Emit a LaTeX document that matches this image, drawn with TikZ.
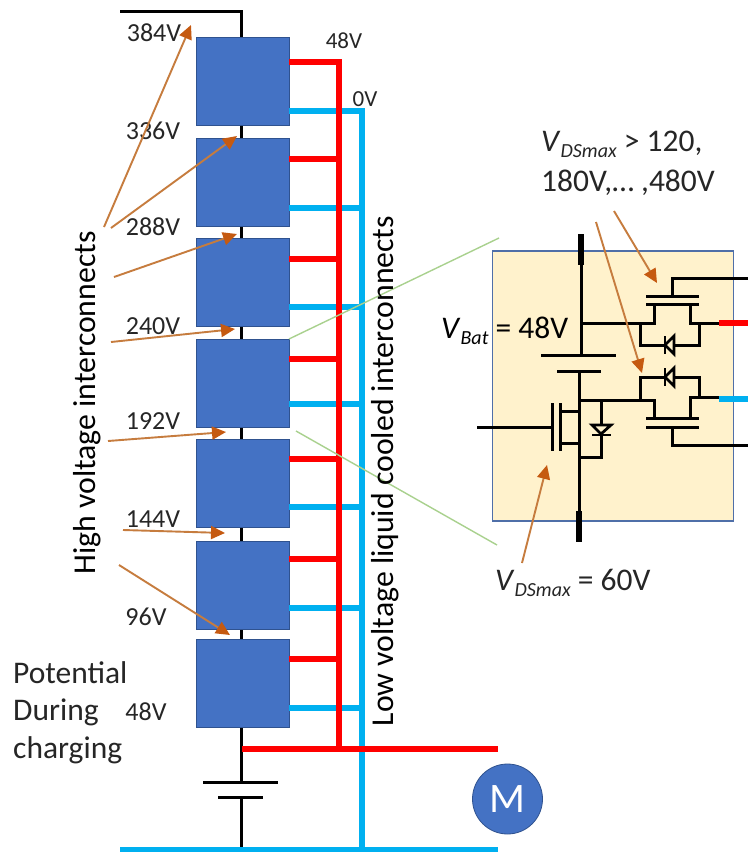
\documentclass[tikz,border=0pt]{standalone}
\usepackage{fontspec}
\setmainfont{Carlito}
\usetikzlibrary{arrows.meta}
\definecolor{cellblue}{HTML}{4472C4}
\definecolor{cellline}{HTML}{2F528F}
\definecolor{busred}{HTML}{FF0000}
\definecolor{busblue}{HTML}{00B0F0}
\definecolor{brownline}{HTML}{C67C3E}
\definecolor{browntip}{HTML}{C55A11}
\definecolor{greenline}{HTML}{A9D18E}
\definecolor{panelfill}{HTML}{FFF2CC}
\definecolor{panelline}{HTML}{4F6FA8}
\definecolor{txt}{HTML}{262626}
\tikzset{
 x=1pt,y=-1pt,
 cell/.style={draw=cellline,fill=cellblue,line width=1pt,minimum width=93pt,minimum height=88pt,inner sep=0pt,outer sep=0pt},
 redbus/.style={draw=busred,line width=6pt},
 bluebus/.style={draw=busblue,line width=5.8pt},
 wire/.style={draw=black,line width=3pt},
 thick stub/.style={draw=black,line width=6.5pt},
 callout/.style={draw=brownline,line width=1.9pt,-{Triangle[length=14pt,width=13pt,color=browntip]}},
 zoomline/.style={draw=greenline,line width=1.4pt},
 lbl/.style={font=\fontsize{26}{28}\selectfont,text=txt,inner sep=0pt},
 toplbl/.style={font=\fontsize{23}{25}\selectfont,text=txt,inner sep=0pt},
 big/.style={font=\fontsize{31.8}{34}\selectfont,text=black,inner sep=0pt},
 mid/.style={font=\fontsize{31.5}{36}\selectfont,text=txt,inner sep=0pt},
}
\newcommand{\subtxt}[1]{\raisebox{-6pt}{\fontsize{20}{22}\selectfont\itshape #1}}
\newcommand{\diodeh}[2]{% horizontal diode, apex to the left
 \draw[black,line width=2.8pt] (#1-4,#2-9) -- (#1-4,#2+9);
 \draw[black,line width=2.8pt,fill=panelfill] (#1+5,#2-9) -- (#1-4,#2) -- (#1+5,#2+9) -- cycle;
}
\begin{document}
\begin{tikzpicture}
\useasboundingbox (0,0) rectangle (748,852);
\fill[white] (0,0) rectangle (748,852);
% main black string
\coordinate (topL) at (120,11);
\coordinate (topC) at (241,11);
\coordinate (plusP) at (241,782);
\coordinate (minP) at (241,797);
\coordinate (gnd) at (241,850);
\draw[wire] (topL) -- (topC) -- (241,640);
\draw[wire] (241,720) -- (plusP);
\draw[wire] (minP) -- (gnd);
\draw[wire] (203,782) -- (278,782);
\draw[wire] (218,797) -- (263,797);
% red and blue buses
\coordinate (rbot) at (339,749);
\coordinate (bbot) at (362,850);
% cells
\foreach \n/\yc in {1/81,2/182,3/282,4/383,5/483,6/585,7/683}
  \node[cell] (c\n) at (242.5,\yc) {};
\foreach \n/\r/\b in {1/62/111,2/159/208,3/259/307,4/359/404,5/459/507,6/559/608,7/659/708}{
  \draw[bluebus] (289,\b) -- (362,\b);
  \draw[redbus] (289,\r) -- (339,\r);
}
\draw[bluebus] (362,108.1) -- (bbot);
\draw[redbus] (339,59) -- (rbot);
\coordinate (bl) at (120,850);
\coordinate (br) at (498,850);
\draw[bluebus] (bl) -- (br);
\coordinate (rl) at (242,749);
\coordinate (rr) at (498,749);
\draw[redbus] (rl) -- (rr);
% motor
\node[circle,fill=cellblue,draw=cellline,line width=.8pt,minimum size=70pt,inner sep=0pt,text=white,font=\fontsize{42}{44}\selectfont] (motor) at (507.5,799) {M};
% panel
\node[draw=panelline,fill=panelfill,line width=1.2pt,minimum width=241pt,minimum height=270pt,inner sep=0pt] (panel) at (613,386) {};
% zoom lines
\coordinate (za) at (289,339);\coordinate (zb) at (499,238);
\coordinate (zc) at (296,431);\coordinate (zd) at (497,545);
\draw[zoomline] (za) -- (zb);
\draw[zoomline] (zc) -- (zd);
% schematic
\draw[thick stub] (581,234) -- (581,265);
\draw[wire] (581,265) -- (581,355);
\draw[wire] (541,355) -- (616,355);
\draw[wire] (557,371) -- (601,371);
\draw[wire] (579,371) -- (579,443);
\draw[thick stub] (579,511) -- (579,542);
\draw[wire] (579,443) -- (579,511);
% low-side fet
\draw[wire] (477,427) -- (552,427);
\draw[wire] (552,403) -- (552,451);
\draw[wire] (560,403) -- (560,451);
\draw[wire] (560,411) -- (579,411);
\draw[wire] (560,443) -- (579,443);
\draw[wire] (579,400) -- (601,400) -- (601,457) -- (579,457);
\draw[black,line width=2.8pt,fill=panelfill] (592,425) -- (611,425) -- (601,434) -- cycle;
\draw[black,line width=2.8pt] (592,435) -- (611,435);
% upper right fet
\draw[wire] (581,323) -- (654,323) -- (654,304);
\draw[wire] (646,304) -- (699,304);
\draw[wire] (646,296) -- (699,296);
\draw[wire] (672,296) -- (672,278) -- (748,278);
\draw[wire] (690,304) -- (690,323) -- (719,323);
\draw[wire] (640,323) -- (640,345) -- (699,345) -- (699,323);
\draw[redbus] (719,323) -- (748,323);
\diodeh{669}{345}
% lower right fet
\draw[wire] (579,400) -- (654,400) -- (654,418);
\draw[wire] (646,418) -- (699,418);
\draw[wire] (646,427) -- (699,427);
\draw[wire] (672,427) -- (672,445) -- (748,445);
\draw[wire] (690,418) -- (690,397) -- (719,397);
\draw[wire] (640,400) -- (640,377) -- (699,377) -- (699,397);
\draw[bluebus] (719,399) -- (748,399);
\diodeh{669}{377}
% labels
\node[lbl] (v384) at (154,33) {384V};
\node[lbl] (v336) at (153,131) {336V};
\node[lbl] (v288) at (153,227) {288V};
\node[lbl] (v240) at (153,326) {240V};
\node[lbl] (v192) at (153,421) {192V};
\node[lbl] (v144) at (153,519) {144V};
\node[lbl] (v96) at (146,617) {96V};
\node[lbl] (v48) at (146,712) {48V};
\node[toplbl] (l48) at (344,41) {48V};
\node[toplbl] (l0) at (365,99) {0V};
\node[big,rotate=90] (hv) at (87,403) {High voltage interconnects};
\node[big,rotate=90] (lv) at (385,471) {Low voltage liquid cooled interconnects};
\node[mid,anchor=west] (p1) at (13,673) {Potential};
\node[mid,anchor=west] (p2) at (13,712) {During};
\node[mid,anchor=west] (p3) at (13,750) {charging};
\node[mid,anchor=west,text=black] (vbat) at (441,331) {\textit{V}\subtxt{Bat} = 48V};
\node[mid,anchor=west] (vds1) at (541,144) {\textit{V}\subtxt{DSmax} > 120,};
\node[mid,anchor=west] (vds2) at (541,183) {180V,… ,480V};
\node[mid,anchor=west] (vds3) at (495,583) {\textit{V}\subtxt{DSmax} = 60V};
% arrows
\coordinate (a1) at (104,227);\coordinate (a1t) at (191,25);
\coordinate (a2) at (111,228);\coordinate (a2t) at (237,136);
\coordinate (a3) at (114,277);\coordinate (a3t) at (237,234);
\coordinate (a4) at (111,342);\coordinate (a4t) at (235,329);
\coordinate (a5) at (108,441);\coordinate (a5t) at (226,432);
\coordinate (a6) at (123,530);\coordinate (a6t) at (225,533);
\coordinate (a7) at (119,565);\coordinate (a7t) at (230,635);
\coordinate (a8) at (614,211);\coordinate (a8t) at (657,283);
\coordinate (a9) at (596,222);\coordinate (a9t) at (642,373);
\coordinate (a10) at (522,563);\coordinate (a10t) at (547,465);
\foreach \s/\e in {a1/a1t,a2/a2t,a3/a3t,a4/a4t,a5/a5t,a6/a6t,a7/a7t,a8/a8t,a9/a9t,a10/a10t}
  \draw[callout] (\s) -- (\e);
\end{tikzpicture}
\end{document}
